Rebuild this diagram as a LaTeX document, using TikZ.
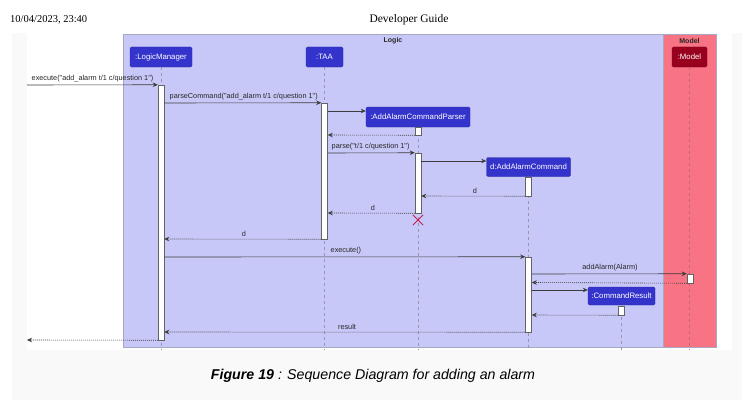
\documentclass[tikz,border=0pt]{standalone}
\usepackage{fontspec}
\setmainfont{Liberation Serif}
\newfontfamily\diag{Liberation Sans}
\usetikzlibrary{arrows.meta}
\definecolor{logicbg}{RGB}{200,200,248}
\definecolor{modelbg}{RGB}{248,116,132}
\definecolor{partblue}{RGB}{52,52,204}
\definecolor{partborder}{RGB}{40,40,160}
\definecolor{modelbox}{RGB}{153,0,30}
\definecolor{frameline}{RGB}{168,168,196}
\definecolor{lifegray}{RGB}{150,150,170}
\definecolor{msg}{RGB}{60,60,60}
\definecolor{pagegray}{RGB}{249,249,249}
\definecolor{xmark}{RGB}{196,30,80}
\tikzset{
  part/.style={draw=partborder, fill=partblue, text=white, rounded corners=1.5pt,
    font=\diag\fontsize{7.8}{8.5}\selectfont, inner sep=0pt, minimum height=20pt},
  modelpart/.style={part, draw=modelbox!80!black, fill=modelbox},
  act/.style={draw=msg!80, fill=white, line width=0.5pt, minimum width=6pt, inner sep=0pt},
  life/.style={draw=lifegray, dash pattern=on 3pt off 3pt, line width=0.6pt},
  call/.style={draw=msg, line width=0.6pt, -{Stealth[length=5pt,width=4.5pt]}},
  ret/.style={draw=msg, line width=0.6pt, dash pattern=on 1pt off 1pt, -{Stealth[length=5pt,width=4.5pt]}},
  lbl/.style={font=\diag\fontsize{7.3}{8}\selectfont, text=black!85, inner sep=0.5pt},
  ftitle/.style={font=\diag\bfseries\fontsize{7}{8}\selectfont, text=black!85}
}
\begin{document}
\begin{tikzpicture}[x=1pt,y=-1pt]
\useasboundingbox (0,0) rectangle (754,404);
\fill[white] (0,0) rectangle (754,404);
% page background
\fill[pagegray] (12,33) rectangle (742,400);
\fill[white] (27,33) rectangle (732,350);
% header
\node[anchor=west, font=\fontsize{10.5}{12}\selectfont, inner sep=0pt] (date) at (10,20) {10/04/2023, 23:40};
\node[font=\fontsize{11.5}{13}\selectfont, inner sep=0pt] (title) at (409,20) {Developer Guide};
% frames
\draw[frameline, fill=logicbg, line width=0.6pt] (123,34) rectangle (663,347);
\draw[frameline, fill=modelbg, line width=0.6pt] (663,34) rectangle (716,347);
\node[ftitle] (logict) at (393,41) {Logic};
\node[ftitle] (modelt) at (689.5,41) {Model};
% participants
\node[part, minimum width=62pt] (LM) at (161,57) {:LogicManager};
\node[part, minimum width=37pt] (TAA) at (324.5,57) {:TAA};
\node[modelpart, minimum width=35pt] (MD) at (689.5,57) {:Model};
\node[part, minimum width=104pt] (PR) at (418,117) {:AddAlarmCommandParser};
\node[part, minimum width=84pt, minimum height=19pt] (CMD) at (528.5,167) {d:AddAlarmCommand};
\node[part, minimum width=67pt, minimum height=18pt] (CR) at (621.5,296) {:CommandResult};
% lifeline ends
\coordinate (LMe) at (161,350);
\coordinate (TAAe) at (324.5,350);
\coordinate (PRe) at (418,350);
\coordinate (CMDe) at (528.5,350);
\coordinate (CRe) at (621.5,350);
\coordinate (MDe) at (689.5,350);
\draw[life] (LM.south) -- (LMe);
\draw[life] (TAA.south) -- (TAAe);
\draw[life] (PR.south) -- (PRe);
\draw[life] (CMD.south) -- (CMDe);
\draw[life] (CR.south) -- (CRe);
\draw[life, draw=modelbox!60] (MD.south) -- (MDe);
% activations
\node[act, minimum height=255pt] (aLM) at (161,212.5) {};
\node[act, minimum height=136pt] (aTAA) at (324.5,171) {};
\node[act, minimum height=8pt] (aPR1) at (418,131) {};
\node[act, minimum height=60pt] (aPR2) at (418,183) {};
\node[act, minimum height=19pt] (aCMD1) at (528.5,186.5) {};
\node[act, minimum height=75pt] (aCMD2) at (528.5,294.5) {};
\node[act, minimum height=9pt] (aMD) at (690,278.5) {};
\node[act, minimum height=9pt] (aCR) at (621.5,310.5) {};
% destroy mark
\node[draw=none, inner sep=0pt, minimum size=10pt] (X) at (418,220) {};
\draw[xmark, line width=0.8pt] (X.north west) -- (X.south east) (X.north east) -- (X.south west);
% message rows
\coordinate (start) at (27,85);
\coordinate (end) at (27,340);
\coordinate (y2) at (0,103);
\coordinate (y3) at (0,111);
\coordinate (y4) at (0,135);
\coordinate (y5) at (0,153);
\coordinate (y6) at (0,161);
\coordinate (y7) at (0,196);
\coordinate (y8) at (0,213);
\coordinate (y9) at (0,239);
\coordinate (y10) at (0,257);
\coordinate (y11) at (0,274);
\coordinate (y12) at (0,282.5);
\coordinate (y13) at (0,290);
\coordinate (y14) at (0,315);
\coordinate (y15) at (0,332);
% messages
\draw[call] (start) -- (aLM.north west);
\node[lbl, anchor=south west] (l1) at (31,83) {execute("add\_alarm t/1 c/question 1")};
\draw[call] (aLM.east |- y2) -- (aTAA.north west);
\node[lbl, anchor=south west] (l2) at (169,101) {parseCommand("add\_alarm t/1 c/question 1")};
\draw[call] (aTAA.east |- y3) -- (PR.west |- y3);
\draw[ret] (aPR1.south west) -- (aTAA.east |- y4);
\draw[call] (aTAA.east |- y5) -- (aPR2.north west);
\node[lbl, anchor=south west] (l3) at (331,151) {parse("t/1 c/question 1")};
\draw[call] (aPR2.east |- y6) -- (CMD.west |- y6);
\draw[ret] (aCMD1.south west) -- (aPR2.east |- y7);
\node[lbl, anchor=south] (l4) at (475,194) {d};
\draw[ret] (aPR2.south west) -- (aTAA.east |- y8);
\node[lbl, anchor=south] (l5) at (373,211) {d};
\draw[ret] (aTAA.south west) -- (aLM.east |- y9);
\node[lbl, anchor=south] (l6) at (244,237) {d};
\draw[call] (aLM.east |- y10) -- (aCMD2.north west);
\node[lbl, anchor=south west] (l7) at (330,255) {execute()};
\draw[call] (aCMD2.east |- y11) -- (aMD.north west);
\node[lbl, anchor=south] (l8) at (610,272) {addAlarm(Alarm)};
\draw[ret] (aMD.south west) -- (aCMD2.east |- y12);
\draw[call] (aCMD2.east |- y13) -- (CR.west |- y13);
\draw[ret] (aCR.south west) -- (aCMD2.east |- y14);
\draw[ret] (aCMD2.south west) -- (aLM.east |- y15);
\node[lbl, anchor=south] (l9) at (347,330) {result};
\draw[ret] (aLM.south west) -- (end);
% caption
\node[font=\diag\fontsize{14.2}{16}\selectfont, inner sep=0pt] (cap) at (373,376)
  {\textbf{\textit{Figure 19}}\textit{ : Sequence Diagram for adding an alarm}};
\end{tikzpicture}
\end{document}
